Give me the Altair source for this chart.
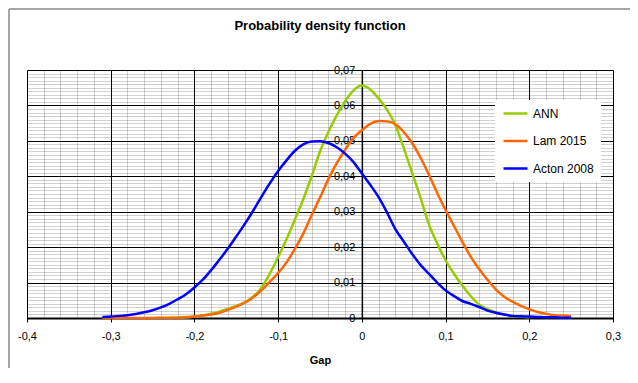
import altair as alt
import pandas as pd

# ---- data ----
gap_ann = [-0.23, -0.22, -0.21, -0.20, -0.19, -0.18, -0.17, -0.16, -0.15, -0.14,
           -0.13, -0.12, -0.11, -0.10, -0.09, -0.08, -0.07, -0.06, -0.05, -0.04,
           -0.03, -0.02, -0.01, 0.00, 0.01, 0.02, 0.03, 0.04, 0.05, 0.06,
           0.07, 0.08, 0.09, 0.10, 0.11, 0.12, 0.13, 0.14, 0.15, 0.16,
           0.17, 0.18, 0.19, 0.20]
pdf_ann = [0.0000, 0.0001, 0.0002, 0.0004, 0.0007, 0.0012, 0.0018, 0.0026, 0.0034, 0.0044,
           0.0060, 0.0085, 0.0125, 0.0172, 0.0222, 0.0278, 0.0335, 0.0400, 0.0470, 0.0525,
           0.0572, 0.0612, 0.0642, 0.0656, 0.0645, 0.0620, 0.0588, 0.0545, 0.0480, 0.0410,
           0.0340, 0.0265, 0.0210, 0.0163, 0.0125, 0.0092, 0.0062, 0.0038, 0.0025, 0.0016,
           0.0010, 0.0006, 0.0004, 0.0002]

gap_lam = [-0.31, -0.30, -0.29, -0.28, -0.27, -0.26, -0.25, -0.24, -0.23, -0.22,
           -0.21, -0.20, -0.19, -0.18, -0.17, -0.16, -0.15, -0.14, -0.13, -0.12,
           -0.11, -0.10, -0.09, -0.08, -0.07, -0.06, -0.05, -0.04, -0.03, -0.02,
           -0.01, 0.00, 0.01, 0.02, 0.03, 0.04, 0.05, 0.06, 0.07, 0.08,
           0.09, 0.10, 0.11, 0.12, 0.13, 0.14, 0.15, 0.16, 0.17, 0.18,
           0.19, 0.20, 0.21, 0.22, 0.23, 0.24, 0.25]
pdf_lam = [0.0000, 0.0000, 0.0000, 0.0000, 0.0000, 0.0000, 0.0000, 0.0001, 0.0001, 0.0001,
           0.0002, 0.0004, 0.0007, 0.0010, 0.0015, 0.0023, 0.0032, 0.0043, 0.0058, 0.0078,
           0.0102, 0.0127, 0.0157, 0.0195, 0.0238, 0.0290, 0.0340, 0.0392, 0.0437, 0.0475,
           0.0508, 0.0530, 0.0548, 0.0556, 0.0555, 0.0547, 0.0525, 0.0494, 0.0453, 0.0405,
           0.0353, 0.0305, 0.0260, 0.0215, 0.0173, 0.0138, 0.0108, 0.0081, 0.0060, 0.0046,
           0.0034, 0.0025, 0.0017, 0.0012, 0.0008, 0.0007, 0.0006]

gap_acton = [-0.31, -0.30, -0.29, -0.28, -0.27, -0.26, -0.25, -0.24, -0.23, -0.22,
             -0.21, -0.20, -0.19, -0.18, -0.17, -0.16, -0.15, -0.14, -0.13, -0.12,
             -0.11, -0.10, -0.09, -0.08, -0.07, -0.06, -0.05, -0.04, -0.03, -0.02,
             -0.01, 0.00, 0.01, 0.02, 0.03, 0.04, 0.05, 0.06, 0.07, 0.08,
             0.09, 0.10, 0.11, 0.12, 0.13, 0.14, 0.15, 0.16, 0.17, 0.18,
             0.19, 0.20, 0.21, 0.22, 0.23, 0.24, 0.25]
pdf_acton = [0.0003, 0.0004, 0.0006, 0.0008, 0.0011, 0.0016, 0.0022, 0.0030, 0.0040, 0.0053,
             0.0067, 0.0086, 0.0108, 0.0135, 0.0165, 0.0196, 0.0230, 0.0265, 0.0302, 0.0342,
             0.0380, 0.0415, 0.0445, 0.0472, 0.0490, 0.0498, 0.0499, 0.0494, 0.0482, 0.0464,
             0.0440, 0.0408, 0.0376, 0.0341, 0.0298, 0.0251, 0.0216, 0.0181, 0.0150, 0.0125,
             0.0100, 0.0078, 0.0062, 0.0048, 0.0040, 0.0031, 0.0021, 0.0015, 0.0010, 0.0006,
             0.0005, 0.0004, 0.0003, 0.0002, 0.0002, 0.0001, 0.0001]

series_names = ["ANN", "Lam 2015", "Acton 2008"]
series_colors = ["#99CC00", "#FF6600", "#0000FF"]

x_major = [-0.4, -0.3, -0.2, -0.1, 0.0, 0.1, 0.2, 0.3]
y_major = [0.0, 0.01, 0.02, 0.03, 0.04, 0.05, 0.06, 0.07]
x_minor = [round(-0.4 + 0.02 * i, 2) for i in range(36)]
y_minor = [round(0.001 * i, 3) for i in range(71)]

rows = []
for name, xs, ys in zip(series_names, [gap_ann, gap_lam, gap_acton], [pdf_ann, pdf_lam, pdf_acton]):
    for order, (gx, gy) in enumerate(zip(xs, ys)):
        rows.append({"series": name, "gap": gx, "pdf": gy, "order": order})
df = pd.DataFrame(rows)

FONT = "Liberation Sans"
W, H = 586, 248
X0 = 0.4 / 0.7 * W  # pixel position of gap = 0

xscale = alt.Scale(domain=[-0.4, 0.3], nice=False, zero=False)
yscale = alt.Scale(domain=[0, 0.07], nice=False, zero=False)

grid_x_axis = alt.Axis(
    orient="bottom", values=x_minor, grid=True, gridColor="black", gridWidth=1,
    gridOpacity={"condition": {"test": "abs(datum.value*10 - round(datum.value*10)) < 0.001", "value": 1},
                 "value": 0.18},
    labels=False, ticks=False, domain=False, title=None)
grid_y_axis = alt.Axis(
    orient="left", values=y_minor, grid=True, gridColor="black", gridWidth=1,
    gridOpacity={"condition": {"test": "abs(datum.value*100 - round(datum.value*100)) < 0.001", "value": 1},
                 "value": 0.18},
    labels=False, ticks=False, domain=False, title=None)

grid_layer = alt.Chart(df).mark_point(opacity=0).encode(
    x=alt.X("gap:Q", scale=xscale, axis=grid_x_axis),
    y=alt.Y("pdf:Q", scale=yscale, axis=grid_y_axis),
)

label_x_axis = alt.Axis(
    orient="bottom", values=x_major, grid=False, domain=True, domainColor="black", domainWidth=2,
    ticks=True, tickColor="black", tickSize=4, tickWidth=1,
    labelExpr="replace(toString(round(datum.value*10)/10), '.', ',')",
    labelFont=FONT, labelFontSize=11, labelColor="black", labelPadding=8,
    labelFlush=False, labelOverlap=False,
    title="Gap", titleFont=FONT, titleFontSize=11, titleFontWeight="bold", titleColor="black",
    titlePadding=13)
label_y_axis = alt.Axis(
    orient="left", values=y_major, grid=False, offset=-X0, domain=True, domainColor="black",
    domainWidth=1.5, ticks=True, tickColor="black", tickSize=4, tickWidth=1,
    labelExpr="replace(toString(round(datum.value*100)/100), '.', ',')",
    labelFont=FONT, labelFontSize=11, labelColor="black", labelPadding=3,
    labelFlush=False, labelOverlap=False, title=None)

lines = alt.Chart(df).mark_line(strokeWidth=2.5, interpolate="monotone").encode(
    x=alt.X("gap:Q", scale=xscale, axis=label_x_axis),
    y=alt.Y("pdf:Q", scale=yscale, axis=label_y_axis),
    order="order:Q",
    color=alt.Color(
        "series:N",
        scale=alt.Scale(domain=series_names, range=series_colors),
        sort=series_names,
        legend=alt.Legend(
            orient="none", legendX=468, legendY=30, title=None,
            symbolType="M-1,0H3.8", symbolSize=100, symbolStrokeWidth=2.5,
            labelFont=FONT, labelFontSize=12, labelColor="black", labelOffset=18,
            fillColor="white", padding=7, rowPadding=14.5,
        ),
    ),
)

frame = pd.DataFrame({"k": [0]})
border_left = alt.Chart(frame).mark_rule(color="#a6a6a6", strokeWidth=2).encode(
    x=alt.value(-18), y=alt.value(-61), y2=alt.value(H + 60))
border_top = alt.Chart(frame).mark_rule(color="#a6a6a6", strokeWidth=2).encode(
    x=alt.value(-18), x2=alt.value(W + 40), y=alt.value(-61))

chart = alt.layer(border_left, border_top, grid_layer, lines).resolve_axis(
    x="independent", y="independent"
).properties(
    width=W, height=H,
    title=alt.Title("Probability density function", font=FONT, fontSize=13, fontWeight="bold",
                    color="black", anchor="middle", frame="group", offset=0, dy=38,
                    baseline="bottom"),
    padding={"left": 19, "top": 62, "right": 17, "bottom": 50},
    autosize=alt.AutoSizeParams(type="none"),
    background="white",
).configure_view(stroke=None)

chart.save("out.html", embed_options={"renderer": "svg", "actions": False})
